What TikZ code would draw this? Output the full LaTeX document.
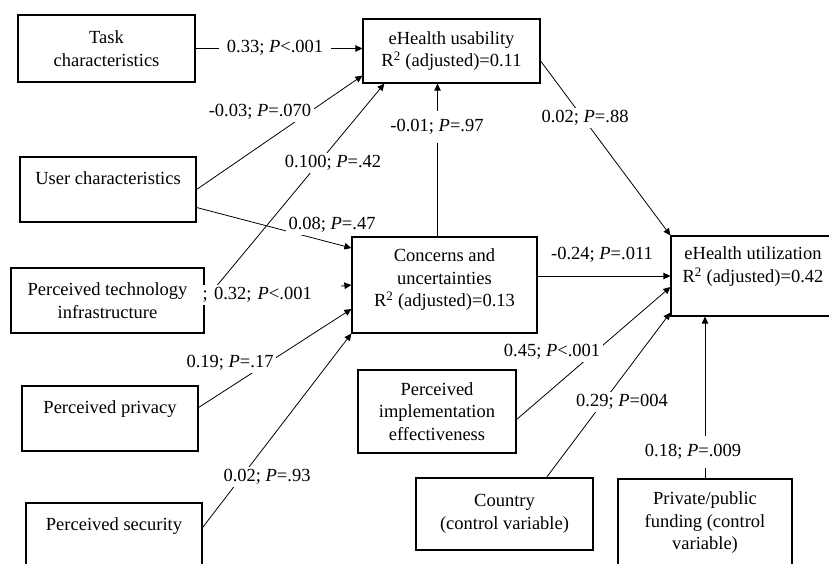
\documentclass[tikz,border=0pt]{standalone}
\usepackage{fontspec}
\setmainfont{Liberation Serif}
\usetikzlibrary{arrows.meta}

\tikzset{
    box/.style={draw, line width=1.2pt, inner sep=0pt, align=center,
        font=\fontsize{18.5}{22.5}\selectfont},
    arr/.style={line width=0.8pt, -{Triangle[length=7pt, width=6.5pt]}},
    lbl/.style={fill=white, inner sep=2.5pt, font=\fontsize{18.5}{22.5}\selectfont}
}

\begin{document}
\begin{tikzpicture}[x=1pt, y=-1pt]
\useasboundingbox (0, 0) rectangle (829, 563);
\clip (0, 0) rectangle (829, 563);

% boxes
\node[box, minimum width=177pt, minimum height=67pt] (task) at (106.5, 48.5)
    {Task\\characteristics};
\node[box, minimum width=177pt, minimum height=64pt] (usab) at (451.5, 51.0)
    {eHealth usability\\R\textsuperscript{2} (adjusted)=0.11};
\node[box, minimum width=176pt, minimum height=65pt] (user) at (108.0, 189.5)
    {User characteristics\\~};
\node[box, minimum width=193pt, minimum height=65pt] (tech) at (107.5, 300.5)
    {Perceived technology\\infrastructure};
\node[box, minimum width=176pt, minimum height=65pt] (priv) at (110.0, 418.5)
    {Perceived privacy\\~};
\node[box, minimum width=176pt, minimum height=65pt] (secu) at (114.0, 535.5)
    {Perceived security\\~};
\node[box, minimum width=185pt, minimum height=96pt] (conc) at (444.5, 285.0)
    {Concerns and\\uncertainties\\R\textsuperscript{2} (adjusted)=0.13\\[-8pt]~};
\node[box, minimum width=164pt, minimum height=80pt] (util) at (753.0, 276.0)
    {eHealth utilization\\R\textsuperscript{2} (adjusted)=0.42\\~};
\node[box, minimum width=158pt, minimum height=83pt] (impl) at (437.0, 411.5)
    {Perceived\\implementation\\effectiveness};
\node[box, minimum width=177pt, minimum height=72pt] (ctry) at (504.5, 514.0)
    {Country\\(control variable)};
\node[box, minimum width=174pt, minimum height=88pt] (fund) at (705.0, 523.0)
    {Private/public\\funding (control\\variable)};

% paths
\draw[arr] (task.east) -- (task.east -| usab.west);
\draw[arr] (user.east) -- ([yshift=8pt]usab.south west);
\draw[arr] (tech.east) -- ([xshift=22pt]usab.south west);
\draw[arr] ([yshift=-18pt]user.east) -- ([yshift=37pt]conc.west);
\draw[arr] (tech.east) -- (conc.west);
\draw[arr] ([yshift=11pt]priv.east) -- ([yshift=-24pt]conc.west);
\draw[arr] ([yshift=8pt]secu.east) -- (conc.south west);
\draw[arr] ([xshift=-7pt]conc.north) -- ([xshift=-14pt]usab.south);
\draw[arr] ([yshift=-10pt]usab.east) -- (util.north west);
\draw[arr] (conc.east |- util.west) -- (util.west);
\draw[arr] ([yshift=-8pt]impl.east) -- ([yshift=-11pt]util.west);
\draw[arr] ([xshift=42pt]ctry.north) -- ([yshift=4pt]util.south west);
\draw[arr] (fund.north) -- (fund.north |- util.south);

% coefficients
\node[lbl, inner xsep=8pt] (l-task) at (275, 48) {0.33; \textit{P}<.001};
\node[lbl] (l-useru) at (260, 112) {-0.03; \textit{P}=.070};
\node[lbl] (l-techu) at (333, 163) {0.100; \textit{P}=.42};
\node[lbl] (l-userc) at (332, 225) {0.08; \textit{P}=.47};
\node[lbl, anchor=west, text width=136pt, align=left] (l-techc) at (200, 295)
    {; 0.32; \textit{P}<.001};
\node[lbl] (l-priv) at (230, 363) {0.19; \textit{P}=.17};
\node[lbl] (l-secu) at (267, 477) {0.02; \textit{P}=.93};
\node[lbl, inner ysep=8pt] (l-concu) at (437, 127) {-0.01; \textit{P}=.97};
\node[lbl] (l-usab) at (585, 118) {0.02; \textit{P}=.88};
\node[lbl] (l-conc) at (602, 255) {-0.24; \textit{P}=.011};
\node[lbl] (l-impl) at (552, 352) {0.45; \textit{P}<.001};
\node[lbl] (l-ctry) at (622, 402) {0.29; \textit{P}=004};
\node[lbl, inner ysep=8pt] (l-fund) at (693, 452) {0.18; \textit{P}=.009};
\end{tikzpicture}
\end{document}
